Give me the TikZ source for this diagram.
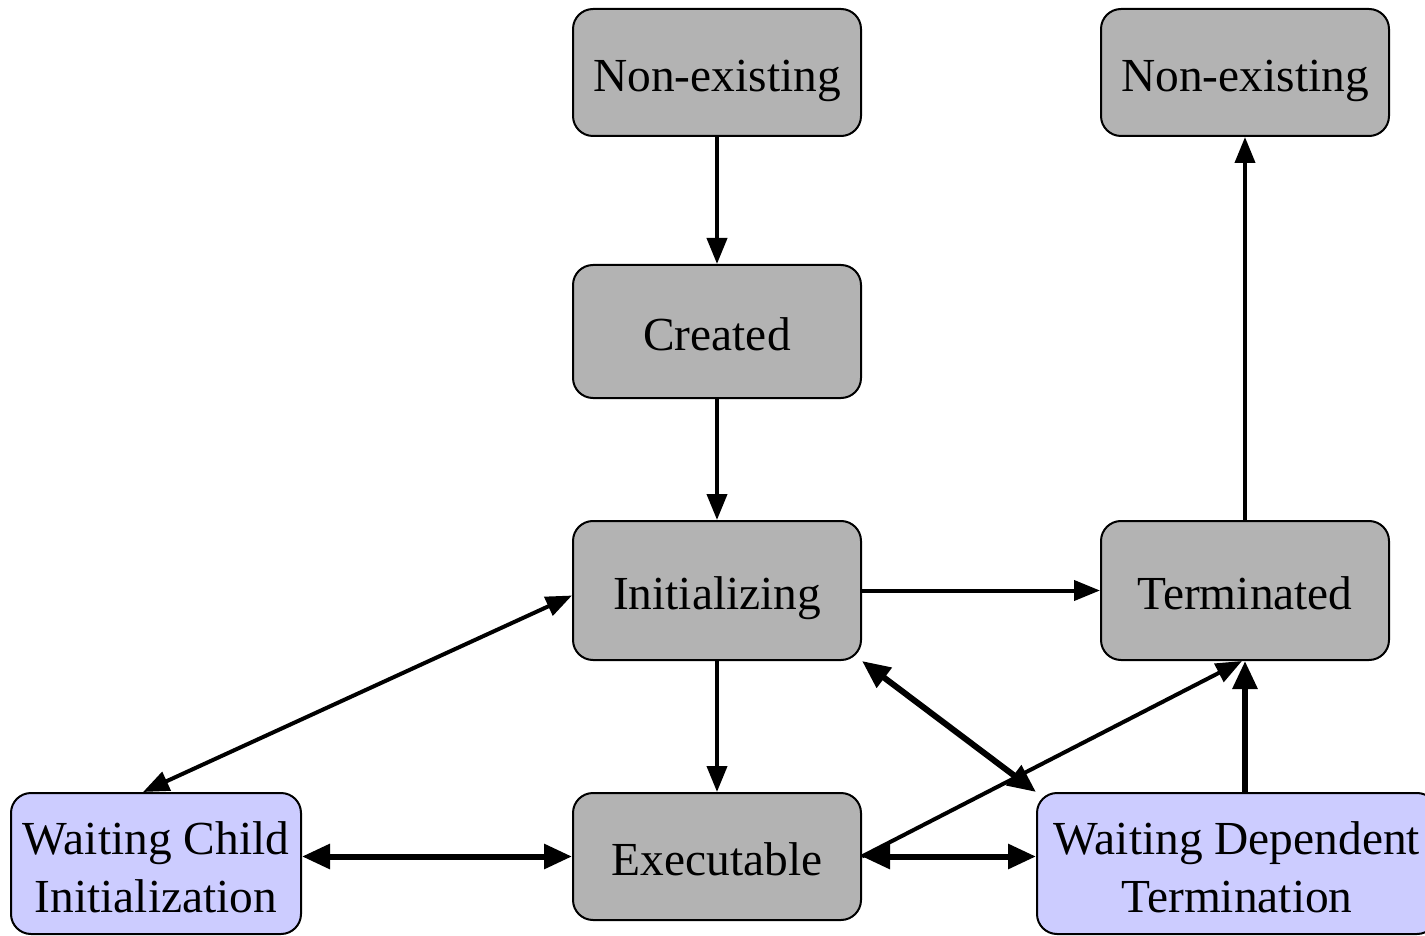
\documentclass[tikz,border=0pt]{standalone}
\usepackage{fontspec}
\setmainfont{Liberation Serif}
\usetikzlibrary{arrows.meta}
\definecolor{graybox}{HTML}{B3B3B3}
\definecolor{lavbox}{HTML}{CCCCFF}
\begin{document}
\begin{tikzpicture}[x=0.5pt,y=-0.5pt,
  state/.style={draw, line width=1pt, rounded corners=10pt, fill=graybox,
    minimum width=144pt, inner sep=0pt,
    text height=19pt, text depth=0pt,
    font=\fontsize{23.7}{29}\selectfont},
  waitbox/.style={state, fill=lavbox, text height=19pt, text depth=28.5pt},
  conn/.style={line width=2pt, -{Triangle[length=13pt,width=10pt]}},
  bconn/.style={line width=2pt, {Triangle[length=13pt,width=10pt]}-{Triangle[length=13pt,width=10pt]}},
  tconn/.style={line width=3pt, -{Triangle[length=14pt,width=12pt]}},
  tbconn/.style={line width=3pt, {Triangle[length=14pt,width=12pt]}-{Triangle[length=14pt,width=12pt]}}]
\useasboundingbox (0,0) rectangle (1425,936);
\node[state, minimum height=63.5pt] (ne1) at (717,72.5) {Non-existing};
\node[state, minimum height=63.5pt] (ne2) at (1245,72.5) {Non-existing};
\node[state, minimum height=66.5pt] (cre) at (717,331.5) {Created};
\node[state, minimum height=69.5pt] (ini) at (717,590.5) {Initializing};
\node[state, minimum height=69.5pt] (ter) at (1245,590.5) {Terminated};
\node[state, minimum height=63.5pt] (exe) at (717,856.5) {Executable};
\node[waitbox, minimum height=70.5pt, minimum width=145pt] (wci) at (156,863.5)
  {\begin{tabular}[t]{@{}c@{}}Waiting Child\\Initialization\end{tabular}};
\node[waitbox, minimum height=70.5pt, minimum width=200pt] (wdt) at (1237,863.5)
  {\begin{tabular}[t]{@{}c@{}}Waiting Dependent\\Termination\end{tabular}};
\draw[conn] (ne1) -- (cre);
\draw[conn] (cre) -- (ini);
\draw[conn] (ini) -- (ter);
\draw[conn] (ter) -- (ne2);
\draw[conn] (ini) -- (exe);
\draw[bconn] ([yshift=-2.5pt]ini.west) -- ([xshift=-6.5pt]wci.north);
\draw[tbconn] (wci.east |- exe.east) -- (exe.east -| exe.west);
\draw[tbconn] (exe.east) -- (exe.east -| wdt.west);
\draw[conn] (exe.east) -- ([xshift=-1.5pt]ter.south);
\draw[tbconn] (ini.south east) -- (wdt.north west);
\draw[tconn] (wdt.north -| ter.south) -- (ter.south);
\end{tikzpicture}
\end{document}
